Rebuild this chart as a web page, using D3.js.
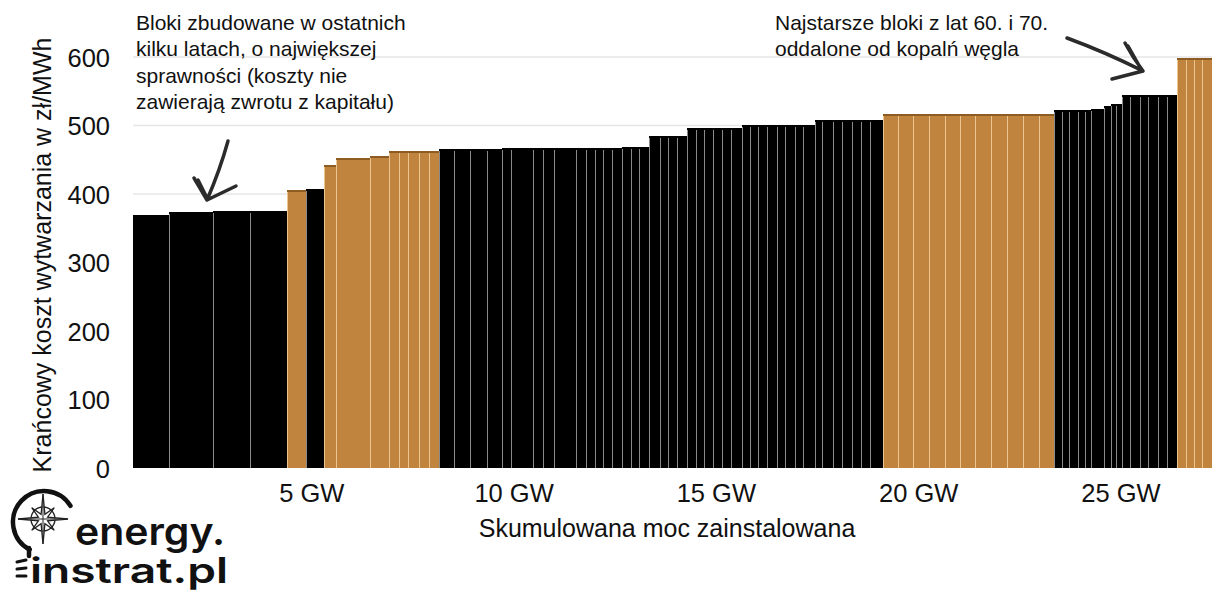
<!DOCTYPE html>
<html><head><meta charset="utf-8">
<script src="https://cdn.jsdelivr.net/npm/d3@7"></script>
<style>body{margin:0;background:#fff} svg{display:block}</style>
</head><body><svg id="c" width="1212" height="595"></svg>
<script>
// Marginal generation cost of coal units, sorted (merit order)
// capacity of each unit in MW
const capacityMW = [
  890, 1088, 915, 915,
  470, 445,
  297, 840, 470,
  247, 222, 272, 247, 247,
  371, 396, 420, 371,
  222, 544, 247, 272, 544, 247, 222, 198, 222, 247,
  222, 198, 247,
  272, 198, 222, 247,
  222, 198, 222, 222, 222, 272,
  198, 198, 222, 247, 198, 247, 198, 297,
  173, 272, 222, 247, 222, 222, 321,
  371, 371, 396, 396, 371, 371, 396, 396, 396, 396, 371,
  198, 173, 222, 173, 148, 321,
  173,
  124, 148,
  198, 247, 198, 247, 222, 247,
  222, 198, 198, 247
];
// marginal cost in zł/MWh
const costPLN = [
  370, 373, 375, 375,
  406, 407,
  442, 452, 456,
  463, 463, 463, 463, 463,
  465, 465, 465, 465,
  467, 467, 467, 467, 467, 467, 467, 467, 467, 467,
  469, 469, 469,
  484, 484, 484, 484,
  496, 496, 496, 496, 496, 496,
  501, 501, 501, 501, 501, 501, 501, 501,
  508, 508, 508, 508, 508, 508, 508,
  517, 517, 517, 517, 517, 517, 517, 517, 517, 517, 517,
  523, 523, 523, 523, 523, 524,
  529,
  532, 532,
  545, 545, 545, 545, 545, 545,
  598, 598, 598, 598
];
// fuel: K = węgiel kamienny (black), B = węgiel brunatny (brown)
const fuel = [
  'K','K','K','K',
  'B','K',
  'B','B','B',
  'B','B','B','B','B',
  'K','K','K','K',
  'K','K','K','K','K','K','K','K','K','K',
  'K','K','K',
  'K','K','K','K',
  'K','K','K','K','K','K',
  'K','K','K','K','K','K','K','K',
  'K','K','K','K','K','K','K',
  'B','B','B','B','B','B','B','B','B','B','B',
  'K','K','K','K','K','K',
  'K',
  'K','K',
  'K','K','K','K','K','K',
  'B','B','B','B'
];
const xTicksGW = [5, 10, 15, 20, 25];
const yTicks = [0, 100, 200, 300, 400, 500, 600];
const yTitle = "Krańcowy koszt wytwarzania w zł/MWh";
const xTitle = "Skumulowana moc zainstalowana";
const noteLeft = ["Bloki zbudowane w ostatnich", "kilku latach, o największej", "sprawności (koszty nie", "zawierają zwrotu z kapitału)"];
const noteRight = ["Najstarsze bloki z lat 60. i 70.", "oddalone od kopalń węgla"];

const colors = {K: "#000000", B: "#c0843e"};
const FONT = "'Liberation Sans', Arial, sans-serif";

// build cumulative table
let acc = 0;
const units = capacityMW.map((c, i) => {
  const d = {start: acc / 1000, end: (acc + c) / 1000, cost: costPLN[i], fuel: fuel[i]};
  acc += c;
  return d;
});
const totalGW = acc / 1000;

const svg = d3.select("#c");
const x = d3.scaleLinear().domain([0, totalGW]).range([133, 1212]);
const y = d3.scaleLinear().domain([0, 600]).range([468, 57]);

// gridlines
svg.append("g").selectAll("line").data(yTicks.filter(v => v > 0)).join("line")
  .attr("x1", 133).attr("x2", 1212)
  .attr("y1", d => y(d)).attr("y2", d => y(d))
  .attr("stroke", "#e6e6e6").attr("stroke-width", 1.5);

// bars
const gb = svg.append("g").attr("shape-rendering", "crispEdges");
gb.selectAll("rect").data(units).join("rect")
  .attr("x", d => Math.round(x(d.start)))
  .attr("width", d => Math.round(x(d.end)) - Math.round(x(d.start)))
  .attr("y", d => y(d.cost))
  .attr("height", d => y(0) - y(d.cost))
  .attr("fill", d => colors[d.fuel]);
// darker top edge for brown bars
gb.selectAll("line.top").data(units.filter(d => d.fuel === 'B')).join("line")
  .attr("class", "top")
  .attr("x1", d => Math.round(x(d.start))).attr("x2", d => Math.round(x(d.end)))
  .attr("y1", d => y(d.cost) + 1).attr("y2", d => y(d.cost) + 1)
  .attr("stroke", "#8d5c22").attr("stroke-width", 2);
// separators
gb.selectAll("line.sep").data(units.slice(1)).join("line")
  .attr("class", "sep")
  .attr("x1", d => Math.round(x(d.start)) + 0.5).attr("x2", d => Math.round(x(d.start)) + 0.5)
  .attr("y1", d => y(d.cost) + 2).attr("y2", y(0))
  .attr("stroke", d => d.fuel === 'B' ? "#ecc58e" : "#8a8a8a")
  .attr("stroke-width", 1);

// y axis labels
const yAxis = d3.axisLeft(y).tickValues(yTicks).tickSize(0).tickPadding(0);
const gy = svg.append("g").attr("transform", "translate(110,0)").call(yAxis);
gy.select(".domain").remove();
gy.selectAll("text").attr("font-family", FONT).attr("font-size", 25.5).attr("fill", "#111").attr("dy", "0.36em");

// x axis labels
const xAxis = d3.axisBottom(x).tickValues(xTicksGW).tickFormat(d => d + " GW").tickSize(0).tickPadding(0);
const gx = svg.append("g").attr("transform", "translate(-24,493)").call(xAxis);
gx.select(".domain").remove();
gx.selectAll("text").attr("font-family", FONT).attr("font-size", 25.5).attr("fill", "#111").attr("dy", "0.36em");

// axis titles
svg.append("text").attr("transform", "translate(42,255) rotate(-90)")
  .attr("text-anchor", "middle").attr("dy", "0.36em")
  .attr("font-family", FONT).attr("font-size", 25).attr("fill", "#111").text(yTitle);
svg.append("text").attr("x", 667).attr("y", 528).attr("dy", "0.36em")
  .attr("text-anchor", "middle")
  .attr("font-family", FONT).attr("font-size", 25).attr("fill", "#111").text(xTitle);

// annotations
svg.append("g").selectAll("text").data(noteLeft).join("text")
  .attr("x", 136).attr("y", (d, i) => 22 + i * 26.5).attr("dy", "0.36em")
  .attr("font-family", FONT).attr("font-size", 21).attr("fill", "#111").text(d => d);
svg.append("g").selectAll("text").data(noteRight).join("text")
  .attr("x", 775).attr("y", (d, i) => 22 + i * 26.5).attr("dy", "0.36em")
  .attr("font-family", FONT).attr("font-size", 21).attr("fill", "#111").text(d => d);

// hand-drawn arrows
const arrowStyle = g => g.attr("fill", "none").attr("stroke", "#2b2b2b").attr("stroke-width", 3.5)
  .attr("stroke-linecap", "round").attr("stroke-linejoin", "round");
svg.append("path").call(arrowStyle)
  .attr("d", "M228,141 Q220,170 207,200 M194,178 Q200,188 207,200 L236,186 M198,180 L207,198");
svg.append("path").call(arrowStyle)
  .attr("d", "M1067,38 Q1105,52 1143,71 M1125,43 Q1133,58 1143,71 L1112,79 M1128,46 L1141,69");

// logo
const logo = svg.append("g");
const p = d3.path();
p.arc(44, 522, 31, -0.55, 2.05, true);
logo.append("path").attr("d", p.toString()).attr("fill", "none").attr("stroke", "#111").attr("stroke-width", 4.5).attr("stroke-linecap", "round");
logo.append("path").attr("d", "M29,548 L29,556").attr("stroke", "#111").attr("stroke-width", 4.5).attr("stroke-linecap", "round");
// compass rose
const cx = 43, cy = 519;
let star = "";
for (let k = 0; k < 16; k++) {
  const a = k * Math.PI / 8 - Math.PI / 2;
  const r = k % 4 === 0 ? 25 : (k % 2 === 0 ? 16 : 5);
  star += (k === 0 ? "M" : "L") + (cx + r * Math.cos(a)).toFixed(1) + "," + (cy + r * Math.sin(a)).toFixed(1);
}
star += "Z";
logo.append("circle").attr("cx", cx).attr("cy", cy).attr("r", 12).attr("fill", "none").attr("stroke", "#222").attr("stroke-width", 1.3);
logo.append("path").attr("d", star).attr("fill", "#fff").attr("fill-opacity", 0.6).attr("stroke", "#222").attr("stroke-width", 1.3);
logo.append("path").attr("d", `M${cx},${cy-25}L${cx},${cy+25}M${cx-25},${cy}L${cx+25},${cy}`).attr("stroke", "#222").attr("stroke-width", 1);
// bulb base
logo.append("path").attr("d", "M17,562 L26,560 M17,569 L26,568 M17,576 L26,576").attr("stroke", "#111").attr("stroke-width", 3).attr("stroke-linecap", "round");
logo.append("text").attr("x", 75).attr("y", 545).attr("font-family", "Inter, 'Open Sans', sans-serif").attr("font-weight", 600)
  .attr("font-size", 38).attr("textLength", 150).attr("lengthAdjust", "spacingAndGlyphs").attr("fill", "#111").text("energy.");
logo.append("text").attr("x", 30).attr("y", 583).attr("font-family", "Inter, 'Open Sans', sans-serif").attr("font-weight", 600)
  .attr("font-size", 35).attr("textLength", 198).attr("lengthAdjust", "spacingAndGlyphs").attr("fill", "#111").text("instrat.pl");
</script>
</body></html>
